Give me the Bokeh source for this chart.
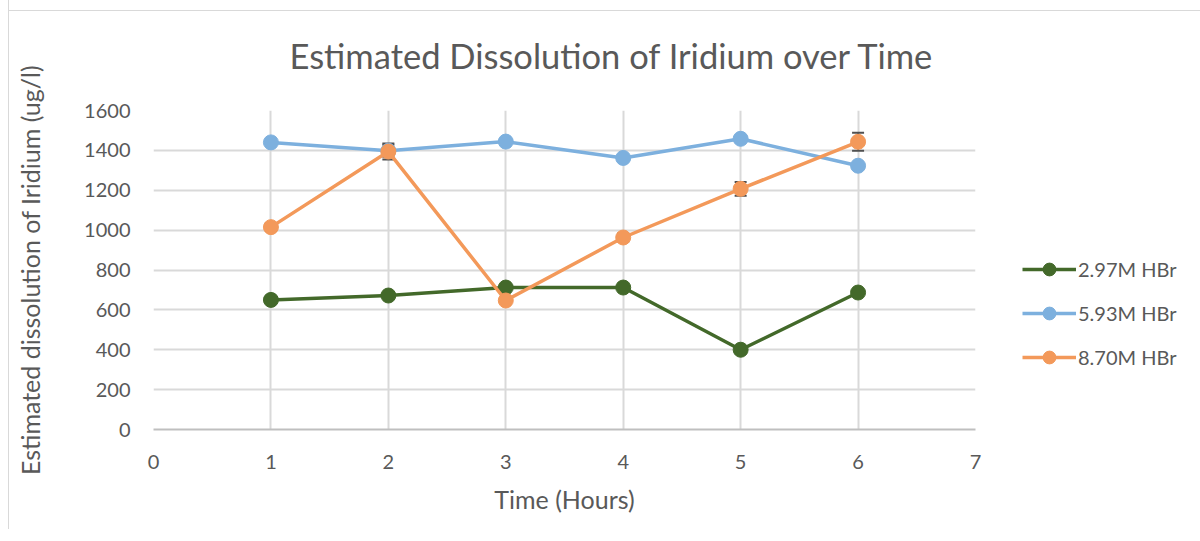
from bokeh.plotting import figure
from bokeh.models import (ColumnDataSource, Legend, LegendItem, Whisker, TeeHead,
                          FixedTicker, Range1d)
from bokeh.embed import file_html
from bokeh.resources import INLINE

hours = [1, 2, 3, 4, 5, 6]
hbr_297 = [650, 672, 712, 712, 400, 687]
hbr_593 = [1440, 1398, 1444, 1362, 1458, 1323]
hbr_870 = [1015, 1394, 647, 963, 1207, 1443]
err_593 = [10, 30, 10, 10, 10, 10]
err_870 = [20, 40, 15, 20, 35, 45]
series_names = ["2.97M HBr", "5.93M HBr", "8.70M HBr"]
colors = ["#43692A", "#7DB0DE", "#F3995A"]
x_ticks = [0, 1, 2, 3, 4, 5, 6, 7]
y_ticks = [0, 200, 400, 600, 800, 1000, 1200, 1400, 1600]

FONT = "Lato"
TXT = "#595959"
ERR = "#505050"

p = figure(frame_width=822, frame_height=319, output_backend="svg", toolbar_location=None,
           x_range=Range1d(0, 7), y_range=Range1d(0, 1600),
           min_border_left=144, min_border_right=0, min_border_top=112,
           min_border_bottom=100)
p.border_fill_color = None
p.background_fill_color = "white"
p.styles = {"border-left": "1px solid #d9d9d9",
            "margin-left": "8px", "margin-top": "-2px",
            "background-image": "linear-gradient(#d9d9d9, #d9d9d9)",
            "background-size": "100% 1px",
            "background-position": "0 12px",
            "background-repeat": "no-repeat"}
p.outline_line_color = None
p.title.text = "Estimated Dissolution of Iridium over Time"
p.title.text_font = FONT
p.title.text_font_size = "34.5px"
p.title.text_font_style = "normal"
p.title.text_color = TXT
p.title.align = "left"
p.title.offset = 136
p.title.standoff = 69

for ax in (p.xaxis[0], p.yaxis[0]):
    ax.major_label_text_font = FONT
    ax.major_label_text_font_size = "20px"
    ax.major_label_text_color = TXT
    ax.axis_label_text_font = FONT
    ax.axis_label_text_font_size = "25px"
    ax.axis_label_text_font_style = "normal"
    ax.axis_label_text_color = TXT
    ax.major_tick_line_color = None
    ax.minor_tick_line_color = None

p.xaxis.ticker = FixedTicker(ticks=x_ticks)
p.yaxis.ticker = FixedTicker(ticks=y_ticks)
p.xaxis.axis_label = "Time (Hours)"
p.yaxis.axis_label = "Estimated dissolution of Iridium (ug/l)"
p.xaxis.axis_line_color = "#bfbfbf"
p.xaxis.axis_line_width = 2
p.yaxis.axis_line_color = None
p.xaxis.major_label_standoff = 19
p.yaxis.major_label_standoff = 17
p.xaxis.axis_label_standoff = 12
p.yaxis.axis_label_standoff = 36
p.xgrid.grid_line_color = "#d9d9d9"
p.ygrid.grid_line_color = "#d9d9d9"
p.xgrid.grid_line_width = 2
p.ygrid.grid_line_width = 2

items = []
for name, ys, c, errs in zip(series_names, [hbr_297, hbr_593, hbr_870], colors,
                             [None, err_593, err_870]):
    src = ColumnDataSource(dict(x=hours, y=ys))
    r1 = p.line("x", "y", source=src, line_color=c, line_width=3.5)
    if errs is not None:
        esrc = ColumnDataSource(dict(x=hours, lo=[a - b for a, b in zip(ys, errs)],
                                     hi=[a + b for a, b in zip(ys, errs)]))
        w = Whisker(base="x", lower="lo", upper="hi", source=esrc,
                    line_color=ERR, line_width=1.5,
                    upper_head=TeeHead(size=12, line_color=ERR, line_width=2),
                    lower_head=TeeHead(size=12, line_color=ERR, line_width=2))
        p.add_layout(w)
    r2 = p.scatter("x", "y", source=src, size=15, fill_color=c, line_color=c)
    items.append(LegendItem(label=name, renderers=[r1, r2]))

legend = Legend(items=items, location=(47, 56), orientation="vertical",
                label_text_font=FONT, label_text_font_size="20px",
                label_text_color=TXT, glyph_width=54, glyph_height=32,
                spacing=12, label_standoff=2, background_fill_alpha=0,
                border_line_color=None, padding=0, margin=0)
p.add_layout(legend, "right")

open("out.html", "w").write(file_html(p, INLINE))
